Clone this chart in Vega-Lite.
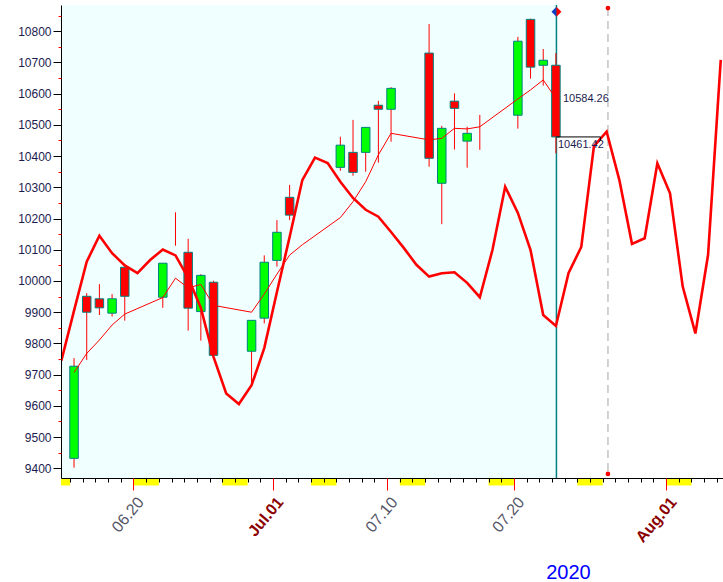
{
  "$schema": "https://vega.github.io/schema/vega-lite/v6.json",
  "width": 662,
  "height": 473,
  "autosize": {"type": "none"},
  "padding": {"left": 61, "top": 5, "right": 0, "bottom": 104},
  "background": "white",
  "config": {"view": {"stroke": null}, "font": "Liberation Sans"},
  "data": {"values": [{"anchor": 1}]},
  "resolve": {"axis": {"x": "independent", "y": "independent"}},
  "datasets": {
    "candles": [
      {"date":"2020-06-15T07:30:00","open":9432,"high":9753,"low":9402,"close":9727},
      {"date":"2020-06-16T07:30:00","open":9951,"high":9961,"low":9747,"close":9900},
      {"date":"2020-06-17T07:30:00","open":9943,"high":9990,"low":9891,"close":9914},
      {"date":"2020-06-18T07:30:00","open":9897,"high":9958,"low":9886,"close":9943},
      {"date":"2020-06-19T07:30:00","open":10044,"high":10046,"low":9873,"close":9951},
      {"date":"2020-06-22T07:30:00","open":9948,"high":10057,"low":9914,"close":10057},
      {"date":"2020-06-23T07:30:00","open":10131,"high":10220,"low":10113,"close":10131},
      {"date":"2020-06-24T07:30:00","open":10092,"high":10135,"low":9841,"close":9913},
      {"date":"2020-06-25T07:30:00","open":9902,"high":10022,"low":9809,"close":10018},
      {"date":"2020-06-26T07:30:00","open":9996,"high":10001,"low":9760,"close":9762},
      {"date":"2020-06-29T07:30:00","open":9775,"high":9874,"low":9667,"close":9874},
      {"date":"2020-06-30T07:30:00","open":9881,"high":10082,"low":9864,"close":10060},
      {"date":"2020-07-01T07:30:00","open":10066,"high":10195,"low":10046,"close":10156},
      {"date":"2020-07-02T07:30:00","open":10268,"high":10308,"low":10195,"close":10211},
      {"date":"2020-07-06T07:30:00","open":10364,"high":10462,"low":10353,"close":10435},
      {"date":"2020-07-07T07:30:00","open":10412,"high":10516,"low":10337,"close":10348},
      {"date":"2020-07-08T07:30:00","open":10412,"high":10492,"low":10350,"close":10492},
      {"date":"2020-07-09T07:30:00","open":10563,"high":10577,"low":10379,"close":10550},
      {"date":"2020-07-10T07:30:00","open":10550,"high":10621,"low":10446,"close":10617},
      {"date":"2020-07-13T07:30:00","open":10730,"high":10823,"low":10366,"close":10393},
      {"date":"2020-07-14T07:30:00","open":10313,"high":10497,"low":10182,"close":10489},
      {"date":"2020-07-15T07:30:00","open":10576,"high":10601,"low":10421,"close":10553},
      {"date":"2020-07-16T07:30:00","open":10448,"high":10494,"low":10363,"close":10473},
      {"date":"2020-07-17T07:30:00","open":10475,"high":10532,"low":10420,"close":10475},
      {"date":"2020-07-20T07:30:00","open":10531,"high":10782,"low":10488,"close":10768},
      {"date":"2020-07-21T07:30:00","open":10838,"high":10840,"low":10648,"close":10685},
      {"date":"2020-07-22T07:30:00","open":10691,"high":10743,"low":10626,"close":10707},
      {"date":"2020-07-23T07:30:00","open":10691,"high":10730,"low":10409,"close":10461.42}
    ],
    "ma": [
      {"date":"2020-06-15T07:30:00","value":9707},
      {"date":"2020-06-16T07:30:00","value":9768},
      {"date":"2020-06-17T07:30:00","value":9811},
      {"date":"2020-06-18T07:30:00","value":9859},
      {"date":"2020-06-19T07:30:00","value":9894},
      {"date":"2020-06-22T07:30:00","value":9947},
      {"date":"2020-06-23T07:30:00","value":10009},
      {"date":"2020-06-24T07:30:00","value":9978},
      {"date":"2020-06-25T07:30:00","value":9989},
      {"date":"2020-06-26T07:30:00","value":9922},
      {"date":"2020-06-29T07:30:00","value":9900},
      {"date":"2020-06-30T07:30:00","value":9958},
      {"date":"2020-07-01T07:30:00","value":10022},
      {"date":"2020-07-02T07:30:00","value":10083},
      {"date":"2020-07-03T07:30:00","value":10116},
      {"date":"2020-07-06T07:30:00","value":10203},
      {"date":"2020-07-07T07:30:00","value":10254},
      {"date":"2020-07-08T07:30:00","value":10318},
      {"date":"2020-07-09T07:30:00","value":10404},
      {"date":"2020-07-10T07:30:00","value":10473},
      {"date":"2020-07-13T07:30:00","value":10452},
      {"date":"2020-07-14T07:30:00","value":10457},
      {"date":"2020-07-15T07:30:00","value":10489},
      {"date":"2020-07-16T07:30:00","value":10487},
      {"date":"2020-07-17T07:30:00","value":10494},
      {"date":"2020-07-20T07:30:00","value":10583},
      {"date":"2020-07-21T07:30:00","value":10612},
      {"date":"2020-07-22T07:30:00","value":10644},
      {"date":"2020-07-23T07:30:00","value":10584.26}
    ],
    "cycle": [
      {"date":"2020-06-14T07:30:00","value":9745},
      {"date":"2020-06-15T07:30:00","value":9905},
      {"date":"2020-06-16T07:30:00","value":10062},
      {"date":"2020-06-17T07:30:00","value":10145},
      {"date":"2020-06-18T07:30:00","value":10089},
      {"date":"2020-06-19T07:30:00","value":10050},
      {"date":"2020-06-20T07:30:00","value":10025},
      {"date":"2020-06-21T07:30:00","value":10067},
      {"date":"2020-06-22T07:30:00","value":10101},
      {"date":"2020-06-23T07:30:00","value":10082},
      {"date":"2020-06-24T07:30:00","value":10010},
      {"date":"2020-06-25T07:30:00","value":9914},
      {"date":"2020-06-26T07:30:00","value":9757},
      {"date":"2020-06-27T07:30:00","value":9640},
      {"date":"2020-06-28T07:30:00","value":9606},
      {"date":"2020-06-29T07:30:00","value":9666},
      {"date":"2020-06-30T07:30:00","value":9785},
      {"date":"2020-07-01T07:30:00","value":9965},
      {"date":"2020-07-02T07:30:00","value":10141},
      {"date":"2020-07-03T07:30:00","value":10323},
      {"date":"2020-07-04T07:30:00","value":10395},
      {"date":"2020-07-05T07:30:00","value":10378},
      {"date":"2020-07-06T07:30:00","value":10318},
      {"date":"2020-07-07T07:30:00","value":10266},
      {"date":"2020-07-08T07:30:00","value":10228},
      {"date":"2020-07-09T07:30:00","value":10206},
      {"date":"2020-07-10T07:30:00","value":10157},
      {"date":"2020-07-11T07:30:00","value":10106},
      {"date":"2020-07-12T07:30:00","value":10052},
      {"date":"2020-07-13T07:30:00","value":10014},
      {"date":"2020-07-14T07:30:00","value":10025},
      {"date":"2020-07-15T07:30:00","value":10028},
      {"date":"2020-07-16T07:30:00","value":9994},
      {"date":"2020-07-17T07:30:00","value":9948},
      {"date":"2020-07-18T07:30:00","value":10100},
      {"date":"2020-07-19T07:30:00","value":10302},
      {"date":"2020-07-20T07:30:00","value":10218},
      {"date":"2020-07-21T07:30:00","value":10099},
      {"date":"2020-07-22T07:30:00","value":9891},
      {"date":"2020-07-23T07:30:00","value":9856},
      {"date":"2020-07-24T07:30:00","value":10026},
      {"date":"2020-07-25T07:30:00","value":10109},
      {"date":"2020-07-26T07:30:00","value":10432},
      {"date":"2020-07-27T07:30:00","value":10478},
      {"date":"2020-07-28T07:30:00","value":10324},
      {"date":"2020-07-29T07:30:00","value":10119},
      {"date":"2020-07-30T07:30:00","value":10137},
      {"date":"2020-07-31T07:30:00","value":10377},
      {"date":"2020-08-01T07:30:00","value":10281},
      {"date":"2020-08-02T07:30:00","value":9982},
      {"date":"2020-08-03T07:30:00","value":9832},
      {"date":"2020-08-04T07:30:00","value":10084},
      {"date":"2020-08-05T07:30:00","value":10708}
    ],
    "weekends": [
      {"start":"2020-06-14T06:49:00","end":"2020-06-15T00:00:00"},
      {"start":"2020-06-20T00:00:00","end":"2020-06-22T00:00:00"},
      {"start":"2020-06-27T00:00:00","end":"2020-06-29T00:00:00"},
      {"start":"2020-07-04T00:00:00","end":"2020-07-06T00:00:00"},
      {"start":"2020-07-11T00:00:00","end":"2020-07-13T00:00:00"},
      {"start":"2020-07-18T00:00:00","end":"2020-07-20T00:00:00"},
      {"start":"2020-07-25T00:00:00","end":"2020-07-27T00:00:00"},
      {"start":"2020-08-01T00:00:00","end":"2020-08-03T00:00:00"}
    ],
    "tags": [
      {"date":"2020-07-23T07:30:00","value":10584.26,"kind":"ma"},
      {"date":"2020-07-23T07:30:00","value":10461.42,"kind":"close"}
    ]
  },
  "layer": [
    {
      "mark": {"type": "rect", "color": "#F0FFFF"},
      "encoding": {
        "x": {"datum": {"year":2020,"month":6,"date":14,"hours":6,"minutes":49}, "type": "temporal", "axis": null},
        "x2": {"datum": {"year":2020,"month":7,"date":23,"hours":8,"minutes":30}}
      }
    },
    {
      "mark": {"type": "rule", "color": "#008080", "strokeWidth": 1.5},
      "encoding": {
        "x": {"datum": {"year":2020,"month":7,"date":23,"hours":8,"minutes":30}, "type": "temporal", "axis": null}
      }
    },
    {
      "mark": {"type": "rule", "color": "#c4c4c4", "strokeWidth": 1.5, "strokeDash": [8, 5]},
      "encoding": {
        "x": {"datum": {"year":2020,"month":7,"date":27,"hours":10,"minutes":0}, "type": "temporal", "axis": null},
        "y": {"datum": 10874, "type": "quantitative", "axis": null},
        "y2": {"datum": 9382}
      }
    },
    {
      "data": {"name": "candles"},
      "mark": {"type": "rule", "color": "#FF0000", "strokeWidth": 1},
      "encoding": {
        "x": {
          "field": "date", "type": "temporal",
          "scale": {"domain": [{"year":2020,"month":6,"date":14,"hours":6,"minutes":49}, {"year":2020,"month":8,"date":5,"hours":11,"minutes":45}], "nice": false, "padding": 0},
          "axis": {
            "orient": "bottom",
            "title": null,
            "tickCount": {"interval": "day", "step": 1},
            "labels": false,
            "tickSize": 4,
            "tickColor": "#000000",
            "tickWidth": 1,
            "grid": false,
            "zindex": 1,
            "domainColor": "#000000",
            "domainWidth": 1
          }
        },
        "y": {
          "field": "low", "type": "quantitative",
          "scale": {"domain": [9369, 10884], "nice": false, "zero": false},
          "axis": {
            "orient": "left",
            "title": null,
            "values": [9400,9500,9600,9700,9800,9900,10000,10100,10200,10300,10400,10500,10600,10700,10800],
            "format": "d",
            "tickSize": 8,
            "tickColor": "#000000",
            "labelColor": "#1c1c50",
            "labelFont": "Liberation Sans",
            "labelFontSize": 12,
            "labelPadding": 2,
            "labelOverlap": false,
            "labelBound": false,
            "labelFlush": false,
            "grid": false,
            "zindex": 1,
            "domainColor": "#000000",
            "domainWidth": 1
          }
        },
        "y2": {"field": "high"}
      }
    },
    {
      "data": {"name": "candles"},
      "transform": [{"filter": "datum.open != datum.close"}],
      "mark": {"type": "bar", "size": 8.5, "stroke": "#008080", "strokeWidth": 1},
      "encoding": {
        "x": {
          "field": "date", "type": "temporal",
          "axis": {
            "orient": "bottom",
            "values": [
              {"year":2020,"month":6,"date":20},
              {"year":2020,"month":7,"date":1},
              {"year":2020,"month":7,"date":10},
              {"year":2020,"month":7,"date":20},
              {"year":2020,"month":8,"date":1}
            ],
            "title": "2020",
            "titleColor": "#0000FF",
            "titleFont": "Liberation Sans",
            "titleFontSize": 20,
            "titleFontWeight": "normal",
            "titleX": 507,
            "titleY": 100,
            "titleAlign": "center",
            "titleBaseline": "alphabetic",
            "domain": false,
            "grid": false,
            "zindex": 2,
            "tickSize": 12,
            "tickColor": "#FF0000",
            "tickWidth": 1,
            "labelOverlap": false,
            "labelBound": false,
            "labelFlush": false,
            "labelExpr": "date(datum.value) === 1 ? timeFormat(datum.value, '%b.%d') : timeFormat(datum.value, '%m.%d')",
            "labelColor": {"condition": {"test": "date(datum.value) === 1", "value": "#8B0000"}, "value": "#555566"},
            "labelFontWeight": {"condition": {"test": "date(datum.value) === 1", "value": "bold"}, "value": "normal"},
            "labelFont": "Liberation Sans",
            "labelFontSize": 16,
            "labelAngle": -50,
            "labelAlign": "right",
            "labelBaseline": "middle",
            "labelPadding": 9,
            "labelOffset": 7
          }
        },
        "y": {
          "field": "open", "type": "quantitative",
          "axis": {
            "orient": "left",
            "title": null,
            "values": [9450,9550,9650,9750,9850,9950,10050,10150,10250,10350,10450,10550,10650,10750,10850],
            "labels": false,
            "domain": false,
            "grid": false,
            "tickSize": 3,
            "tickColor": "#FF0000",
            "zindex": 2
          }
        },
        "y2": {"field": "close"},
        "fill": {"condition": {"test": "datum.close > datum.open", "value": "#00FF00"}, "value": "#FF0000"}
      }
    },
    {
      "data": {"name": "ma"},
      "mark": {"type": "line", "color": "#FF0000", "strokeWidth": 1},
      "encoding": {
        "x": {"field": "date", "type": "temporal", "axis": null},
        "y": {"field": "value", "type": "quantitative", "axis": null}
      }
    },
    {
      "data": {"name": "cycle"},
      "mark": {"type": "line", "color": "#FF0000", "strokeWidth": 2.6, "clip": true},
      "encoding": {
        "x": {"field": "date", "type": "temporal", "axis": null},
        "y": {"field": "value", "type": "quantitative", "axis": null}
      }
    },
    {
      "data": {"name": "weekends"},
      "mark": {"type": "rect", "color": "#FFFF00"},
      "encoding": {
        "x": {"field": "start", "type": "temporal", "axis": null},
        "x2": {"field": "end"},
        "y": {"datum": 9366, "type": "quantitative", "axis": null},
        "y2": {"datum": 9345}
      }
    },
    {
      "mark": {"type": "rule", "color": "#000000", "strokeWidth": 1},
      "encoding": {
        "x": {"datum": {"year":2020,"month":7,"date":23,"hours":8,"minutes":30}, "type": "temporal", "axis": null},
        "x2": {"datum": {"year":2020,"month":7,"date":26,"hours":19,"minutes":45}},
        "y": {"datum": 10461.42, "type": "quantitative", "axis": null}
      }
    },
    {
      "mark": {"type": "rule", "color": "#000000", "strokeWidth": 1},
      "encoding": {
        "x": {"datum": {"year":2020,"month":7,"date":26,"hours":19,"minutes":45}, "type": "temporal", "axis": null},
        "y": {"datum": 10461.42, "type": "quantitative", "axis": null},
        "y2": {"datum": 10449}
      }
    },
    {
      "data": {"name": "tags"},
      "transform": [{"filter": "datum.kind === 'ma'"}],
      "mark": {"type": "text", "align": "left", "baseline": "middle", "dx": 7, "fontSize": 11, "font": "Liberation Sans", "color": "#1c1c50"},
      "encoding": {
        "x": {"field": "date", "type": "temporal", "axis": null},
        "y": {"field": "value", "type": "quantitative", "axis": null},
        "text": {"field": "value", "type": "quantitative", "format": ".2f"}
      }
    },
    {
      "data": {"name": "tags"},
      "transform": [{"filter": "datum.kind === 'close'"}],
      "mark": {"type": "text", "align": "left", "baseline": "top", "dx": 2, "dy": 2, "fontSize": 11, "font": "Liberation Sans", "color": "#1c1c50"},
      "encoding": {
        "x": {"field": "date", "type": "temporal", "axis": null},
        "y": {"field": "value", "type": "quantitative", "axis": null},
        "text": {"field": "value", "type": "quantitative", "format": ".2f"}
      }
    },
    {
      "mark": {"type": "point", "shape": "M0,-1L-1,0L0,1Z", "filled": true, "color": "#1040C0", "size": 100, "opacity": 1},
      "encoding": {
        "x": {"datum": {"year":2020,"month":7,"date":23,"hours":8,"minutes":30}, "type": "temporal", "axis": null},
        "y": {"datum": 10862, "type": "quantitative", "axis": null}
      }
    },
    {
      "mark": {"type": "point", "shape": "M0,-1L1,0L0,1Z", "filled": true, "color": "#FF0000", "size": 100, "opacity": 1},
      "encoding": {
        "x": {"datum": {"year":2020,"month":7,"date":23,"hours":8,"minutes":30}, "type": "temporal", "axis": null},
        "y": {"datum": 10862, "type": "quantitative", "axis": null}
      }
    },
    {
      "mark": {"type": "point", "shape": "circle", "filled": true, "color": "#FF0000", "size": 22, "opacity": 1},
      "encoding": {
        "x": {"datum": {"year":2020,"month":7,"date":27,"hours":10,"minutes":0}, "type": "temporal", "axis": null},
        "y": {"datum": 10874, "type": "quantitative", "axis": null}
      }
    },
    {
      "mark": {"type": "point", "shape": "circle", "filled": true, "color": "#FF0000", "size": 22, "opacity": 1},
      "encoding": {
        "x": {"datum": {"year":2020,"month":7,"date":27,"hours":10,"minutes":0}, "type": "temporal", "axis": null},
        "y": {"datum": 9382, "type": "quantitative", "axis": null}
      }
    }
  ]
}
